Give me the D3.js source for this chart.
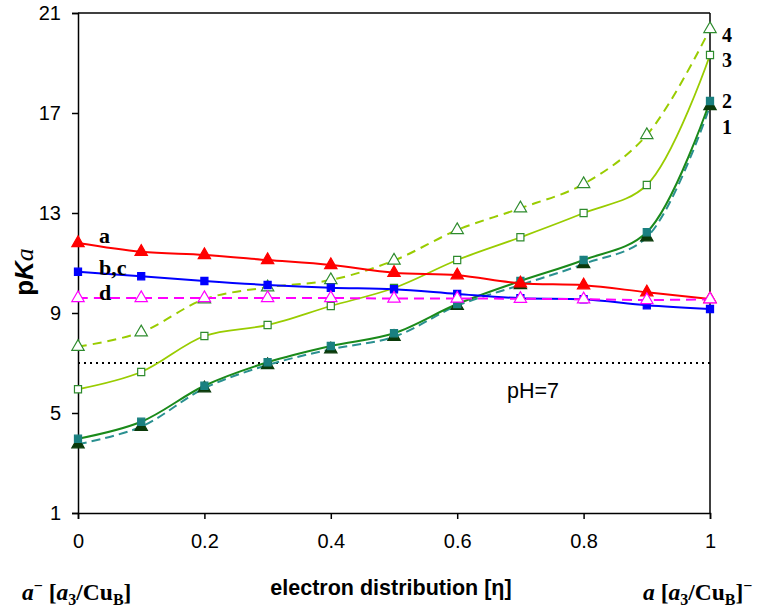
<!DOCTYPE html>
<html><head><meta charset="utf-8">
<script src="https://cdn.jsdelivr.net/npm/d3@7"></script>
<style>body{margin:0;background:#fff}</style>
</head><body>
<svg id="c" width="762" height="611"></svg>
<script>
const eta = [0,0.1,0.2,0.3,0.4,0.5,0.6,0.7,0.8,0.9,1.0];
const serA  = [11.8,11.45,11.32,11.12,10.92,10.61,10.51,10.19,10.11,9.83,9.56];
const serBC = [10.65,10.47,10.28,10.12,10.01,9.95,9.76,9.59,9.55,9.31,9.16];
const serD  = [9.6,9.6,9.6,9.6,9.6,9.58,9.58,9.57,9.55,9.52,9.55];
const ser1  = [3.75,4.45,5.99,6.92,7.55,8.05,9.29,10.12,10.96,12.03,17.28];
const ser2  = [3.97,4.65,6.09,7.03,7.68,8.19,9.36,10.28,11.12,12.23,17.48];
const ser3  = [5.95,6.64,8.08,8.52,9.28,10.0,11.12,12.03,13.0,14.12,19.32];
const ser4  = [7.65,8.23,9.55,10.03,10.32,11.1,12.32,13.19,14.16,16.12,20.36];
const yTicks = [1,5,9,13,17,21];
const xTicks = [0,0.2,0.4,0.6,0.8,1];
const pHLine = 7;

const svg = d3.select("#c");
const L=78,R=710,T=13,B=513;
const x = d3.scaleLinear().domain([0,1]).range([L,R]);
const y = d3.scaleLinear().domain([1,21]).range([B,T]);
const sans = "Liberation Sans, Arial, sans-serif";
const serif = "Liberation Serif, Times New Roman, serif";

// frame
svg.append("line").attr("x1",L).attr("x2",R).attr("y1",T).attr("y2",T).attr("stroke","#000").attr("stroke-width",1.5);
svg.append("line").attr("x1",R).attr("x2",R).attr("y1",T).attr("y2",B).attr("stroke","#000").attr("stroke-width",1.5);

const yAx = svg.append("g").attr("transform",`translate(${L},0)`)
  .call(d3.axisLeft(y).tickValues(yTicks).tickSize(6).tickPadding(11).tickFormat(d3.format("d")));
const xAx = svg.append("g").attr("transform",`translate(0,${B})`)
  .call(d3.axisBottom(x).tickValues(xTicks).tickSize(6).tickPadding(15).tickFormat(d=>d===0?"0":d===1?"1":d3.format(".1f")(d)));
[yAx,xAx].forEach(g=>{
  g.select(".domain").attr("stroke","#000").attr("stroke-width",1.5);
  g.selectAll(".tick line").attr("stroke","#000").attr("stroke-width",1.5);
  g.selectAll(".tick text").attr("font-family",sans).attr("font-size",20).attr("fill","#000");
});

// pH=7 dotted
svg.append("line").attr("x1",L).attr("x2",R+4).attr("y1",y(pHLine)).attr("y2",y(pHLine))
  .attr("stroke","#000").attr("stroke-width",1.8).attr("stroke-dasharray","2,4");
svg.append("text").attr("x",507).attr("y",398).attr("font-family",sans)
  .attr("font-size",21.5).text("pH=7");

const smooth = d3.line().x((d,i)=>x(eta[i])).y(d=>y(d)).curve(d3.curveCatmullRom.alpha(0.5));

const series = [
  {v:ser4, line:"#99cc00", dash:"9,6", w:2, marker:"tri", fill:"#fff", stroke:"#2e8b2e"},
  {v:ser3, line:"#99cc00", dash:null, w:1.8, marker:"sq", fill:"#fff", stroke:"#2e8b2e"},
  {v:ser1, line:"#2a9090", dash:"9,5", w:2, marker:"tri", fill:"#0a3a0a", stroke:"#0a3a0a"},
  {v:ser2, line:"#1a8a1a", dash:null, w:2, marker:"sq", fill:"#1a8080", stroke:"#1a8080"},
  {v:serA, line:"#ff0000", dash:null, w:2, marker:"tri", fill:"#ff0000", stroke:"#ff0000"},
  {v:serBC, line:"#0000ff", dash:null, w:2, marker:"sq", fill:"#0000ff", stroke:"#0000ff"},
  {v:serD, line:"#ff00ff", dash:"10,6", w:2, marker:"tri", fill:"#fff", stroke:"#ff00ff"}
];

series.forEach(s=>{
  svg.append("path").attr("d",smooth(s.v)).attr("fill","none").attr("stroke",s.line)
    .attr("stroke-width",s.w).attr("stroke-dasharray",s.dash);
});
series.forEach(s=>{
  const sym = d3.symbol().type(s.marker==="tri"?d3.symbolTriangle:d3.symbolSquare).size(s.marker==="tri"?66:50);
  svg.append("g").selectAll("path").data(s.v).join("path")
    .attr("transform",(d,i)=>`translate(${x(eta[i])},${y(d)})`)
    .attr("d",sym).attr("fill",s.fill).attr("stroke",s.stroke).attr("stroke-width",1.2);
});

// series labels
const lab = (t,xx,yy,fs)=>svg.append("text").attr("x",xx).attr("y",yy).attr("font-family",serif)
  .attr("font-weight","bold").attr("font-size",fs).text(t);
lab("a",99,243,22); lab("b,c",99,275,22); lab("d",99,300,22);
lab("4",722,42,20); lab("3",722,67,20); lab("2",722,108,20); lab("1",722,134,20);

// y label
const yl = svg.append("text").attr("transform","translate(33,272) rotate(-90)").attr("text-anchor","middle")
  .attr("font-family",sans).attr("font-weight","bold").attr("font-size",26);
yl.append("tspan").text("p");
yl.append("tspan").attr("font-style","italic").text("K");
yl.append("tspan").attr("font-style","italic").attr("font-family",serif).attr("font-weight","normal").text("a");

// x label
svg.append("text").attr("x",391).attr("y",595).attr("text-anchor","middle")
  .attr("font-family",sans).attr("font-weight","bold").attr("font-size",21.5)
  .text("electron distribution [η]");

function chem(xx, anchor, parts){
  const t = svg.append("text").attr("x",xx).attr("y",600).attr("text-anchor",anchor)
    .attr("font-family",serif).attr("font-weight","bold").attr("font-size",23.5);
  parts.forEach(p=>{
    const ts = t.append("tspan").text(p.t);
    if(p.i) ts.attr("font-style","italic");
    if(p.sub) ts.attr("font-size",16).attr("dy",5);
    if(p.up) ts.attr("dy",p.up);
    if(p.sup) ts.attr("font-size",16).attr("dy",-9);
  });
}
chem(22,"start",[{t:"a",i:1},{t:"\u2212",sup:1},{t:" [",up:9},{t:"a",i:1},{t:"3",sub:1},{t:"/Cu",up:-5},{t:"B",sub:1},{t:"]",up:-5}]);
chem(643,"start",[{t:"a",i:1},{t:" ["},{t:"a",i:1},{t:"3",sub:1},{t:"/Cu",up:-5},{t:"B",sub:1},{t:"]",up:-5},{t:"\u2212",sup:1}]);
</script>
</body></html>
